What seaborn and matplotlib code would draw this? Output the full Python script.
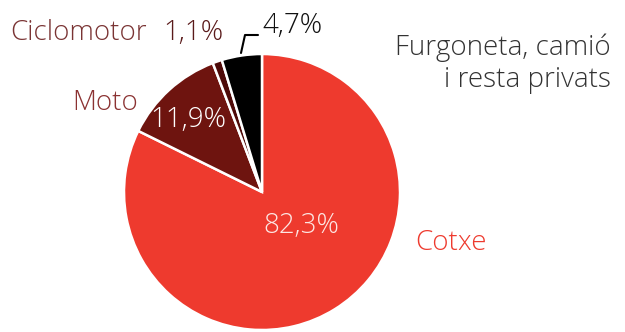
import matplotlib
matplotlib.use("Agg")
import matplotlib.pyplot as plt
import seaborn as sns

# Data
categories = ["Cotxe", "Moto", "Ciclomotor", "Furgoneta, camió\ni resta privats"]
shares = [82.3, 11.9, 1.1, 4.7]
pct_labels = ["82,3%", "11,9%", "1,1%", "4,7%"]
colors = ["#ee3a2e", "#6e140f", "#4e0a08", "#000000"]

sns.set_theme(style="white")
plt.rcParams["font.family"] = ["Open Sans", "DejaVu Sans"]

W, H = 625, 332
fig = plt.figure(figsize=(W / 100, H / 100), dpi=100)
cx, cy, r = 262, 192, 138
ax = fig.add_axes([(cx - r) / W, (H - cy - r) / H, 2 * r / W, 2 * r / H])
ax.pie(shares, colors=colors, startangle=90, counterclock=False, radius=1,
       wedgeprops=dict(edgecolor="white", linewidth=1.8))
ax.set_xlim(-1, 1)
ax.set_ylim(-1, 1)
ax.set_aspect("equal")
ax.axis("off")


def px(x, y):
    return x / W, 1 - y / H


fs = 20
kw = dict(va="baseline", fontsize=fs, fontweight="light")
fig.text(*px(10, 40), categories[2], ha="left", color="#7a3434", **kw)
fig.text(*px(163, 40), pct_labels[2], ha="left", color="#5a1a1a", **kw)
fig.text(*px(72, 110), categories[1], ha="left", color="#8b3232", **kw)
fig.text(*px(150, 127), pct_labels[1], ha="left", color="white", **kw)
fig.text(*px(263, 233), pct_labels[0], ha="left", color="#fde6e3", **kw)
fig.text(*px(415, 250), categories[0], ha="left", color="#ee3a2e", **kw)
fig.text(*px(611, 55), categories[3].split("\n")[0], ha="right", color="#333333", **kw)
fig.text(*px(611, 87), categories[3].split("\n")[1], ha="right", color="#333333", **kw)
fig.text(*px(262, 33), pct_labels[3], ha="left", color="#111111", **kw)

# leader line for the small black slice
xs, ys = zip(px(241, 53), px(245, 35), px(258, 35))
fig.add_artist(plt.Line2D(xs, ys, color="black", linewidth=1.5, transform=fig.transFigure))

fig.savefig("out.png", dpi=100)
